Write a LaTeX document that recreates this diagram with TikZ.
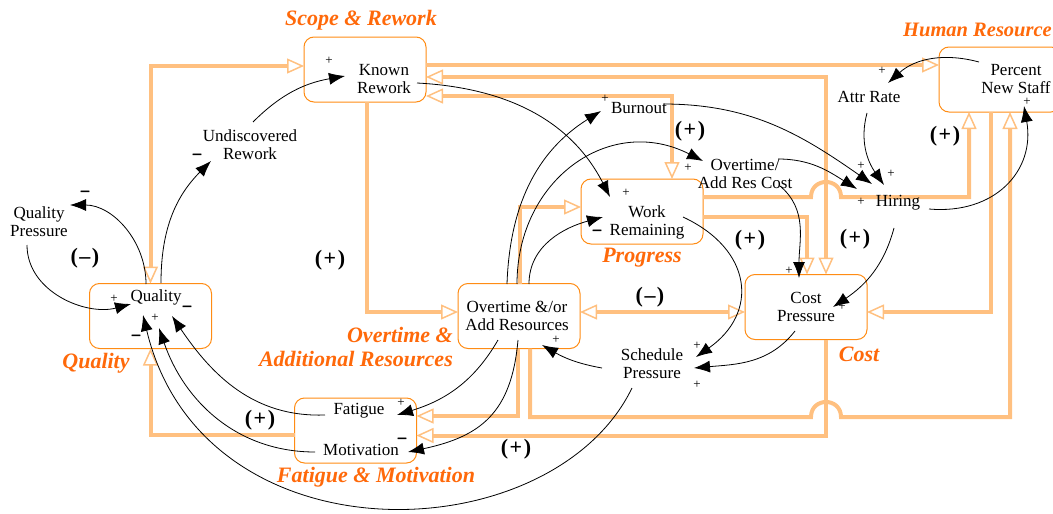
\documentclass[tikz,border=0pt]{standalone}
\usepackage{fontspec}
\setmainfont{Liberation Serif}
\newfontfamily\minusfont[FakeBold=3]{Liberation Sans}
\usepackage{tikz}
\usetikzlibrary{calc}
\usetikzlibrary{arrows.meta}
\definecolor{boxorange}{RGB}{255,140,20}
\definecolor{linkorange}{RGB}{255,192,128}
\definecolor{labelorange}{RGB}{255,105,10}

\tikzset{
  sector/.style={draw=boxorange, line width=1pt, rounded corners=10pt, fill=white,
    minimum width=122pt, minimum height=65pt, inner sep=0pt, outer sep=0pt},
  var/.style={align=center, font=\fontsize{17}{18}\selectfont, inner sep=1pt},
  grp/.style={text=labelorange, font=\fontsize{22}{24}\selectfont\bfseries\itshape, inner sep=0pt},
  loopsign/.style={font=\fontsize{22}{24}\selectfont\bfseries, inner sep=0pt},
  plussign/.style={font=\fontsize{13}{13}\selectfont, inner sep=0pt},
  minussign/.style={font=\fontsize{15}{15}\minusfont, inner sep=0pt},
  link/.style={draw=linkorange, line width=4pt, -{Triangle[open,length=17pt,width=15pt,line width=1.5pt]}},
  link2/.style={link, {Triangle[open,length=17pt,width=15pt,line width=1.5pt]}-{Triangle[open,length=17pt,width=15pt,line width=1.5pt]}},
  cause/.style={draw=black, line width=0.8pt, -{Latex[length=16pt,width=12pt]}},
}

\begin{document}
\begin{tikzpicture}[x=1pt,y=-1pt]
  \useasboundingbox (0,0) rectangle (1053,514);
  % sectors
  \node[sector] (krbox) at (365,69.5) {};
  \node[sector] (qualbox) at (150.5,316) {};
  \node[sector] (wrbox) at (642,211.5) {};
  \node[sector] (otbox) at (519,316) {};
  \node[sector] (cpbox) at (806,307) {};
  \node[sector] (pnsbox) at (1000,79.5) {};
  \node[sector] (fmbox) at (355.5,430.5) {};
  \coordinate (hopa) at (826,197);
  \coordinate (hopb) at (826,417);

  % links between sectors
  \draw[link2] (qualbox.north) |- ([yshift=3.5pt]krbox.west);
  \draw[link] ([xshift=2pt]krbox.south) |- ([yshift=4pt]otbox.west);
  \draw[link] ([yshift=4.5pt]krbox.east) -- ([yshift=4.5pt]krbox.east -| pnsbox.west);
  \draw[link2] ([yshift=-7.5pt]krbox.east) -| ([xshift=20pt]cpbox.north);
  \draw[link2] ([yshift=-26.5pt]krbox.east) -| ([xshift=30pt]wrbox.north);
  \draw[link] ([yshift=14.5pt]wrbox.east) -- ([xshift=-15pt]hopa)
    .. controls +(0,-20) and +(0,-20) .. ([xshift=15pt]hopa) -| ([xshift=-31pt]pnsbox.south);
  \draw[link] ([yshift=-5.5pt]wrbox.east) -| ([xshift=1pt]cpbox.north);
  \draw[link] ([xshift=-9pt]pnsbox.south) |- ([yshift=-5pt]cpbox.east);
  \draw[link2] ([yshift=4pt]otbox.east) -- ([yshift=-5pt]cpbox.west);
  \draw[link] ([xshift=-1pt]otbox.south) |- ([yshift=14.5pt]fmbox.east);
  \draw[link] ([xshift=11pt]otbox.south) |- ([xshift=-15pt]hopb)
    .. controls +(0,-20) and +(0,-20) .. ([xshift=15pt]hopb) -| ([xshift=10pt]pnsbox.south);
  \draw[link] ([xshift=20pt]cpbox.south) |- ([yshift=-5pt]fmbox.east);
  \draw[link] ([xshift=1pt]otbox.north) |- ([yshift=4.5pt]wrbox.west);
  \draw[link] ([yshift=-4.5pt]fmbox.west) -| (qualbox.south);

  % variables
  \node[var] (kr) at (384,79) {Known\\Rework};
  \node[var] (qual) at (156,297) {Quality};
  \node[var] (undisc) at (250,145) {Undiscovered\\Rework};
  \node[var] (qp) at (39,222) {Quality\\Pressure};
  \node[var] (burn) at (639,108) {Burnout};
  \node[var] (oarc) at (745,174) {Overtime/\\Add Res Cost};
  \node[var] (wr) at (647,222) {Work\\Remaining};
  \node[var] (attr) at (869,97) {Attr Rate};
  \node[var] (pns) at (1016,79) {Percent\\New Staff};
  \node[var] (hiring) at (898,203) {Hiring};
  \node[var] (ot) at (517,316) {Overtime \&/or\\Add Resources};
  \node[var] (cp) at (806,307) {Cost\\Pressure};
  \node[var] (sp) at (652,364) {Schedule\\Pressure};
  \node[var] (fat) at (359,411) {Fatigue};
  \node[var] (mot) at (361,450) {Motivation};

  % sector names
  \node[grp] (scopelbl) at (361,20) {Scope \& Rework};
  \node[grp] (quallbl) at (96,363) {Quality};
  \node[grp] (proglbl) at (642,258) {Progress};
  \node[grp, align=right, anchor=east] (otlbl) at (453,347) {Overtime \&\\Additional Resources};
  \node[grp] (costlbl) at (859,354) {Cost};
  \node[grp, anchor=east, font=\fontsize{20.5}{24}\selectfont\bfseries\itshape] (hrlbl) at (1052,30) {Human Resource};
  \node[grp] (fmlbl) at (376,477) {Fatigue \& Motivation};

  % loop polarity
  \node[loopsign] (lqp) at (85,258) {(\kern1.5pt–\kern1.5pt)};
  \node[loopsign] (lrw) at (330,260) {(\kern1.5pt+\kern1.5pt)};
  \node[loopsign] (lbo) at (690,131) {(\kern1.5pt+\kern1.5pt)};
  \node[loopsign] (lsp) at (750,240) {(\kern1.5pt+\kern1.5pt)};
  \node[loopsign] (lhc) at (855,239) {(\kern1.5pt+\kern1.5pt)};
  \node[loopsign] (lhr) at (945,136) {(\kern1.5pt+\kern1.5pt)};
  \node[loopsign] (lcp) at (650,297) {(\kern1.5pt–\kern1.5pt)};
  \node[loopsign] (lfq) at (260,420) {(\kern1.5pt+\kern1.5pt)};
  \node[loopsign] (lsq) at (516,449) {(\kern1.5pt+\kern1.5pt)};

  % causal links
  \draw[cause] ($(qual)+(5,-14)$) to[out=90,in=225] ($(undisc)+(-39,16)$);
  \draw[cause] ($(undisc)+(3,-23)$) to[out=45,in=190] ($(kr)+(-39,-3)$);
  \draw[cause] ($(qual)+(-10,-13)$) to[out=90,in=0] ($(qp)+(31,-17)$);
  \draw[cause] ($(qp)+(-12,23)$) to[out=270,in=195] ($(qual)+(-25,7)$);
  \draw[cause] ($(kr)+(33,4)$) to[out=357,in=117] ($(wr)+(-37,-25)$);
  \draw[cause] ($(ot)+(-10,-32)$) to[out=88,in=212] ($(burn)+(-38,3)$);
  \draw[cause] ($(ot)+(0,-32)$) to[out=90,in=153,looseness=1.2] ($(oarc)+(-42,-13)$);
  \draw[cause] ($(ot)+(12,-32)$) to[out=90,in=195] ($(wr)+(-44,-5)$);
  \draw[cause] ($(burn)+(24,-4)$) to[out=0,in=145] ($(hiring)+(-26,-19)$);
  \draw[cause] ($(oarc)+(33,-15)$) to[out=0,in=148] ($(hiring)+(-41,-14)$);
  \draw[cause] ($(oarc)+(35,12)$) to[out=320,in=90] ($(cp)+(-7,-29)$);
  \draw[cause] ($(attr)+(-2,16)$) to[out=255,in=125] ($(hiring)+(-14,-18)$);
  \draw[cause] ($(pns)+(-37,-17)$) to[out=165,in=42] ($(attr)+(19,-14)$);
  \draw[cause] ($(hiring)+(31,6)$) to[out=355,in=280,looseness=1.2] ($(pns)+(8,27)$);
  \draw[cause] ($(hiring)+(-4,25)$) to[out=255,in=34] ($(cp)+(27,0)$);
  \draw[cause] ($(wr)+(36,-5)$) to[out=-25,in=35,looseness=1.4] ($(sp)+(44,-7)$);
  \draw[cause] ($(cp)+(-11,24)$) to[out=232,in=5] ($(sp)+(42,4)$);
  \draw[cause] ($(sp)+(-50,4)$) to[out=170,in=330] ($(ot)+(25,29)$);
  \draw[cause] ($(ot)+(-19,24)$) to[out=240,in=17] ($(fat)+(38,4)$);
  \draw[cause] ($(ot)+(1,24)$) to[out=265,in=12,looseness=1.2] ($(mot)+(47,2)$);
  \draw[cause] ($(fat)+(-34,4)$) to[out=182,in=304] ($(qual)+(16,19)$);
  \draw[cause] ($(mot)+(-46,2)$) to[out=180,in=289] ($(qual)+(3,31)$);
  \draw[cause] ($(sp)+(-20,24)$) .. controls +(-80,165) and +(60,250) .. ($(qual)+(-13,18)$);

  % link polarity
  \node[plussign] (pkr) at (329,61) {+};
  \node[minussign] (nund) at (197,156) {–};
  \node[minussign] (nqp) at (85,193) {–};
  \node[plussign] (pqa) at (114,299) {+};
  \node[minussign] (nqb) at (187,308) {–};
  \node[plussign] (pqc) at (155,318) {+};
  \node[minussign] (nqd) at (136,337) {–};
  \node[plussign] (pbo) at (605,99) {+};
  \node[plussign] (pwra) at (626,193) {+};
  \node[minussign] (nwrb) at (597,232) {–};
  \node[plussign] (poarc) at (688,168) {+};
  \node[plussign] (pat) at (882,71) {+};
  \node[plussign] (phia) at (861,166) {+};
  \node[plussign] (phib) at (891,174) {+};
  \node[plussign] (phic) at (861,202) {+};
  \node[plussign] (ppns) at (1027,102) {+};
  \node[plussign] (pcpa) at (789,271) {+};
  \node[plussign] (pcpb) at (842,307) {+};
  \node[plussign] (pspa) at (697,346) {+};
  \node[plussign] (pspb) at (697,385) {+};
  \node[plussign] (pot) at (556,340) {+};
  \node[plussign] (pfat) at (401,403) {+};
  \node[minussign] (nmot) at (402,440) {–};
\end{tikzpicture}
\end{document}
